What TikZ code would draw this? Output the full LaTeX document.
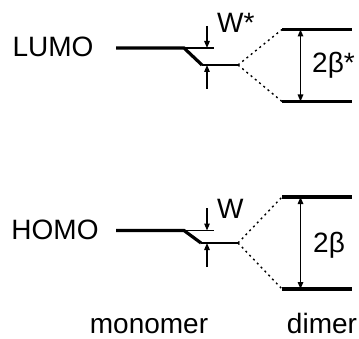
\documentclass[tikz,border=0pt]{standalone}
\usepackage{fontspec}
\setmainfont{Liberation Sans}
\usetikzlibrary{arrows.meta,positioning}

\begin{document}
\begin{tikzpicture}[x=1pt,y=1pt,
    font=\fontsize{28}{32}\selectfont,
    level/.style={line width=3.2pt},
    thin level/.style={line width=1.2pt},
    split/.style={line width=1.4pt,dash pattern=on 2pt off 3.5pt},
    gap/.style={line width=1.2pt,-{Triangle[length=7pt,width=5.5pt]}},
    span/.style={line width=1.4pt,{Triangle[length=7pt,width=5.5pt]}-{Triangle[length=7pt,width=5.5pt]}},
    lbl/.style={anchor=base west,inner sep=0pt}]
  \useasboundingbox (0,0) rectangle (359,338);

  % LUMO
  \node (lumo) at (53,291.5) {LUMO};
  \coordinate (l_a) at (116,290);
  \coordinate (l_b) at (184,290);
  \coordinate (l_c) at (202,273);
  \coordinate (l_d) at (238,273);
  \coordinate (l_e) at (214,290);
  \coordinate (l_up) at (282,308.5);
  \coordinate (l_up_r) at (352,308.5);
  \coordinate (l_lo) at (282,236.5);
  \coordinate (l_lo_r) at (352,236.5);
  \coordinate (ws_top) at (207,312);
  \coordinate (ws_bot) at (207,249);
  \draw[level] (l_a) -- (l_b) -- (l_c);
  \draw[thin level] (l_b) -- (l_e);
  \draw[thin level] (l_c) -- (l_d);
  \draw[gap] (ws_top) -- (207,290);
  \draw[gap] (ws_bot) -- (207,273);
  \node[lbl] (wstar) at (217,305) {W*};
  \draw[split] (l_d) -- (l_up);
  \draw[split] (l_d) -- (l_lo);
  \draw[level] (l_up) -- (l_up_r);
  \draw[level] (l_lo) -- (l_lo_r);
  \draw[span] (300.5,308.5) -- (300.5,236.5);
  \node[lbl] (bstar) at (312,265) {2β*};

  % HOMO
  \node (homo) at (55,108) {HOMO};
  \coordinate (h_a) at (116,107.5);
  \coordinate (h_b) at (184,107.5);
  \coordinate (h_c) at (201,95);
  \coordinate (h_d) at (238,95);
  \coordinate (h_e) at (214,107.5);
  \coordinate (h_up) at (282,141);
  \coordinate (h_up_r) at (352,141);
  \coordinate (h_lo) at (282,49);
  \coordinate (h_lo_r) at (352,49);
  \coordinate (w_top) at (207,130);
  \coordinate (w_bot) at (207,71);
  \draw[level] (h_a) -- (h_b) -- (h_c);
  \draw[thin level] (h_b) -- (h_e);
  \draw[thin level] (h_c) -- (h_d);
  \draw[gap] (w_top) -- (207,107.5);
  \draw[gap] (w_bot) -- (207,95);
  \node[lbl] (w) at (217,120) {W};
  \draw[split] (h_d) -- (h_up);
  \draw[split] (h_d) -- (h_lo);
  \draw[level] (h_up) -- (h_up_r);
  \draw[level] (h_lo) -- (h_lo_r);
  \draw[span] (300.5,141) -- (300.5,49);
  \node[lbl] (beta) at (313,86) {2β};

  \node[anchor=base,inner sep=0pt] (mono) at (149,4.5) {monomer};
  \node[anchor=base,inner sep=0pt] (dim) at (322,4.5) {dimer};
\end{tikzpicture}
\end{document}
